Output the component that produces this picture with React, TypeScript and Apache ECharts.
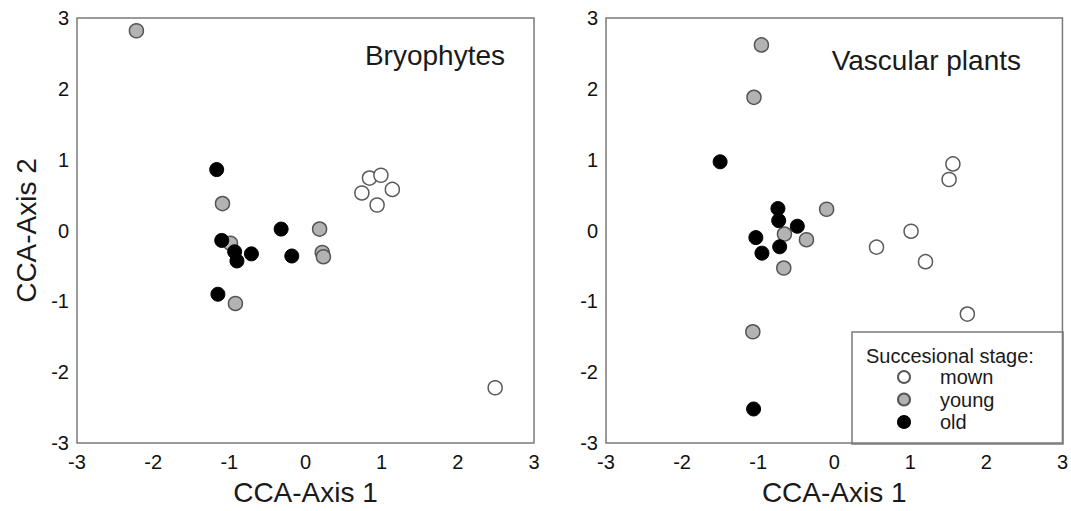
import React, { useEffect, useRef } from "react";
import * as echarts from "echarts";

const axisTicks = [-3, -2, -1, 0, 1, 2, 3];
const stageNames = ["mown", "young", "old"];

const bryoMown = [[0.84, 0.74], [0.99, 0.78], [0.74, 0.53], [1.14, 0.58], [0.94, 0.36], [2.49, -2.22]];
const bryoYoung = [[-2.22, 2.82], [-1.09, 0.38], [-0.985, -0.18], [-0.92, -1.03], [0.185, 0.02], [0.22, -0.31], [0.235, -0.37]];
const bryoOld = [[-1.166, 0.86], [-1.1, -0.14], [-0.93, -0.3], [-0.9, -0.43], [-0.71, -0.33], [-0.32, 0.02], [-0.18, -0.36], [-1.15, -0.9]];

const vascMown = [[1.56, 0.94], [1.51, 0.72], [1.01, -0.01], [0.556, -0.235], [1.2, -0.44], [1.75, -1.18]];
const vascYoung = [[-0.957, 2.62], [-1.055, 1.88], [-0.1, 0.3], [-0.654, -0.05], [-0.365, -0.13], [-0.663, -0.53], [-1.07, -1.43]];
const vascOld = [[-1.5, 0.97], [-0.74, 0.31], [-0.73, 0.14], [-0.485, 0.06], [-1.03, -0.1], [-0.717, -0.23], [-0.95, -0.32], [-1.06, -2.52]];

const FONT = "'Liberation Sans', Arial, sans-serif";

const stageStyle: Record<string, any> = {
  mown: { color: "#ffffff", borderColor: "#5a5a5a", borderWidth: 1.5, opacity: 1 },
  young: { color: "#b3b3b3", borderColor: "#555555", borderWidth: 1.5, opacity: 1 },
  old: { color: "#000000", borderColor: "#000000", borderWidth: 1, opacity: 1 },
};

function makeAxis(gridIndex: number, isY: boolean, name: string) {
  return {
    type: "value",
    gridIndex,
    min: axisTicks[0],
    max: axisTicks[axisTicks.length - 1],
    interval: 1,
    name,
    nameLocation: "middle",
    nameGap: isY ? 37 : 35,
    nameTextStyle: { fontSize: 28, color: "#1a1a1a", fontFamily: FONT },
    axisLine: { show: false },
    axisTick: { show: false },
    splitLine: { show: false },
    axisLabel: { fontSize: 20, color: "#111111", fontFamily: FONT, margin: isY ? 8 : 9 },
  };
}

export default function App() {
  const ref = useRef<HTMLDivElement>(null);
  useEffect(() => {
    document.body.style.margin = "0";
    if (!ref.current) return;
    const chart = echarts.init(ref.current, undefined, { renderer: "svg" });
    const panels = [
      [bryoMown, bryoYoung, bryoOld],
      [vascMown, vascYoung, vascOld],
    ];
    const series: any[] = [];
    panels.forEach((sets, gi) => {
      sets.forEach((data, si) => {
        const nm = stageNames[si];
        series.push({
          type: "scatter",
          name: nm,
          xAxisIndex: gi,
          yAxisIndex: gi,
          data,
          symbol: "circle",
          symbolSize: 14,
          itemStyle: stageStyle[nm],
          z: 2 + si,
        });
      });
    });
    chart.setOption({
      animation: false,
      backgroundColor: "#ffffff",
      grid: [
        { left: 77, top: 18, width: 457, height: 426, show: true, borderColor: "#7a7a7a", borderWidth: 1.5, backgroundColor: "transparent" },
        { left: 606, top: 18, width: 457, height: 426, show: true, borderColor: "#7a7a7a", borderWidth: 1.5, backgroundColor: "transparent" },
      ],
      xAxis: [makeAxis(0, false, "CCA-Axis 1"), makeAxis(1, false, "CCA-Axis 1")],
      yAxis: [makeAxis(0, true, "CCA-Axis 2"), makeAxis(1, true, "")],
      legend: {
        orient: "vertical",
        left: 897,
        top: 367,
        padding: 0,
        itemWidth: 12,
        itemHeight: 12,
        itemGap: 2.5,
        icon: "circle",
        data: stageNames,
        selectedMode: false,
        textStyle: { fontSize: 20, lineHeight: 20, color: "#1a1a1a", fontFamily: FONT, padding: [0, 0, 0, 25] },
      },
      graphic: [
        {
          type: "rect",
          shape: { x: 852, y: 332, width: 211, height: 112 },
          style: { fill: "rgba(0,0,0,0)", stroke: "#7a7a7a", lineWidth: 1.5 },
          silent: true,
        },
        {
          type: "text",
          x: 866,
          y: 356,
          style: { text: "Succesional stage:", fontSize: 20, fontFamily: FONT, fill: "#1a1a1a", textAlign: "left", textVerticalAlign: "middle" },
        },
        {
          type: "text",
          x: 505,
          y: 55,
          style: { text: "Bryophytes", fontSize: 28, fontFamily: FONT, fill: "#1a1a1a", textAlign: "right", textVerticalAlign: "middle" },
        },
        {
          type: "text",
          x: 1021,
          y: 60,
          style: { text: "Vascular plants", fontSize: 28, fontFamily: FONT, fill: "#1a1a1a", textAlign: "right", textVerticalAlign: "middle" },
        },
      ],
      series,
    });
    return () => chart.dispose();
  }, []);
  return <div ref={ref} style={{ width: 1071, height: 511 }} />;
}
